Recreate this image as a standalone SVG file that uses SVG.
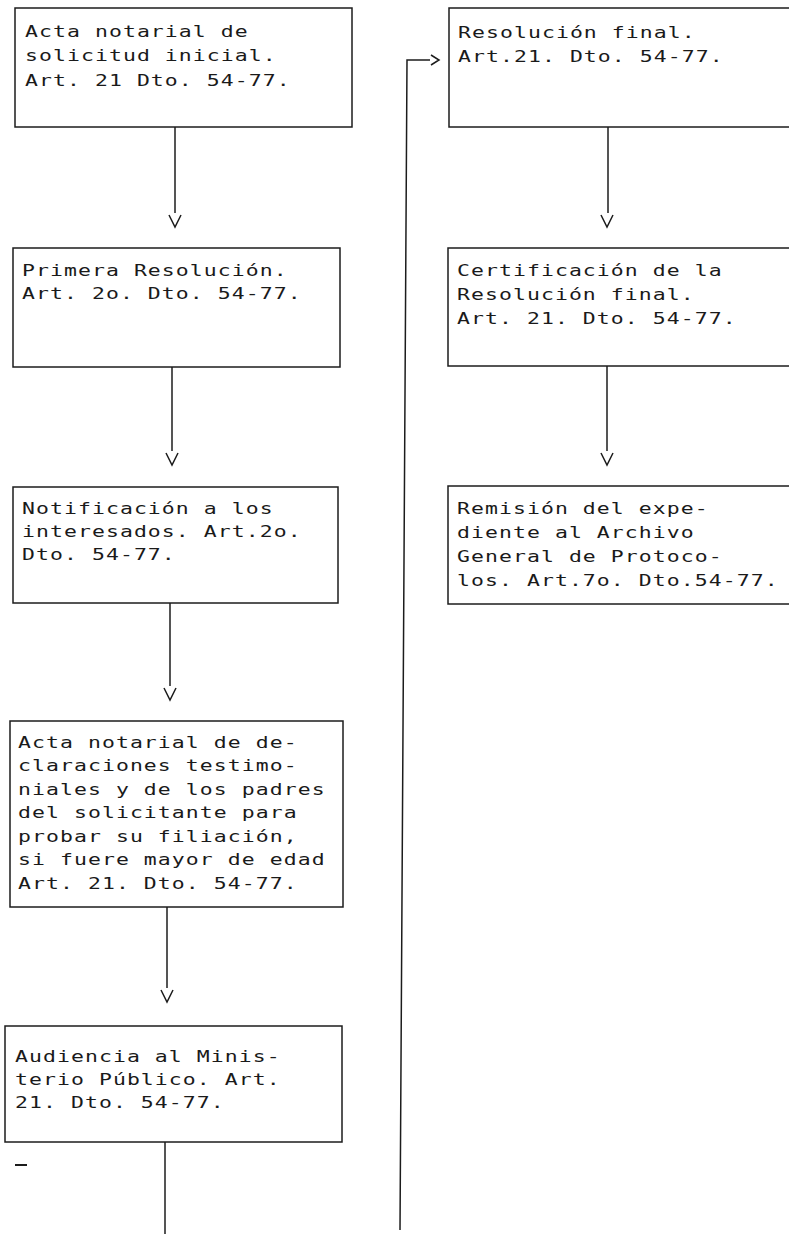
<svg xmlns="http://www.w3.org/2000/svg" xmlns:xlink="http://www.w3.org/1999/xlink" width="789" height="1234" viewBox="0 0 789 1234">
<style>
.box{fill:none;stroke:#1c1c1c;stroke-width:1.5}
.t{font-family:"DejaVu Sans Mono","Liberation Mono",monospace;font-size:16.5px;letter-spacing:0.83px;fill:#1a1a1a}
.c{fill:none;stroke:#1c1c1c;stroke-width:1.5}
</style>
<defs>
<path id="v" d="M-6,0 L0,12 L6,0" fill="none" stroke="#1c1c1c" stroke-width="1.5"/>
</defs>
<rect width="789" height="1234" fill="#ffffff"/>
<g id="n1">
<rect class="box" x="15" y="8" width="337" height="119"/>
<g transform="translate(25,0) scale(1.3,1)">
<text class="t" x="0" y="37">Acta notarial de</text>
<text class="t" x="0" y="61">solicitud inicial.</text>
<text class="t" x="0" y="86">Art. 21 Dto. 54-77.</text>
</g>
</g>
<g id="n2">
<rect class="box" x="13" y="248" width="327" height="119"/>
<g transform="translate(22,0) scale(1.3,1)">
<text class="t" x="0" y="276">Primera Resolución.</text>
<text class="t" x="0" y="299">Art. 2o. Dto. 54-77.</text>
</g>
</g>
<g id="n3">
<rect class="box" x="13" y="487" width="325" height="116"/>
<g transform="translate(22,0) scale(1.3,1)">
<text class="t" x="0" y="514">Notificación a los</text>
<text class="t" x="0" y="537">interesados. Art.2o.</text>
<text class="t" x="0" y="560">Dto. 54-77.</text>
</g>
</g>
<g id="n4">
<rect class="box" x="10" y="721" width="333" height="186"/>
<g transform="translate(18,0) scale(1.3,1)">
<text class="t" x="0" y="748">Acta notarial de de-</text>
<text class="t" x="0" y="771">claraciones testimo-</text>
<text class="t" x="0" y="795">niales y de los padres</text>
<text class="t" x="0" y="818">del solicitante para</text>
<text class="t" x="0" y="842">probar su filiación,</text>
<text class="t" x="0" y="865">si fuere mayor de edad</text>
<text class="t" x="0" y="889">Art. 21. Dto. 54-77.</text>
</g>
</g>
<g id="n5">
<rect class="box" x="5" y="1026" width="337" height="116"/>
<g transform="translate(15,0) scale(1.3,1)">
<text class="t" x="0" y="1062">Audiencia al Minis-</text>
<text class="t" x="0" y="1085">terio Público. Art.</text>
<text class="t" x="0" y="1108">21. Dto. 54-77.</text>
</g>
</g>
<g id="n6">
<rect class="box" x="449" y="8" width="360" height="119"/>
<g transform="translate(458,0) scale(1.3,1)">
<text class="t" x="0" y="38">Resolución final.</text>
<text class="t" x="0" y="62">Art.21. Dto. 54-77.</text>
</g>
</g>
<g id="n7">
<rect class="box" x="448" y="248" width="360" height="118"/>
<g transform="translate(457,0) scale(1.3,1)">
<text class="t" x="0" y="276">Certificación de la</text>
<text class="t" x="0" y="300">Resolución final.</text>
<text class="t" x="0" y="324">Art. 21. Dto. 54-77.</text>
</g>
</g>
<g id="n8">
<rect class="box" x="448" y="486" width="360" height="118"/>
<g transform="translate(457,0) scale(1.3,1)">
<text class="t" x="0" y="514">Remisión del expe-</text>
<text class="t" x="0" y="538">diente al Archivo</text>
<text class="t" x="0" y="562">General de Protoco-</text>
<text class="t" x="0" y="586">los. Art.7o. Dto.54-77.</text>
</g>
</g>
<g id="connectors">
<path class="c" d="M175,127 V213"/>
<use xlink:href="#v" x="175" y="215"/>
<path class="c" d="M172,367 V451"/>
<use xlink:href="#v" x="172" y="453"/>
<path class="c" d="M170,603 V686"/>
<use xlink:href="#v" x="170" y="688"/>
<path class="c" d="M167,907 V988"/>
<use xlink:href="#v" x="167" y="990"/>
<path class="c" d="M165,1142 V1234"/>
<path class="c" d="M608,127 V213"/>
<use xlink:href="#v" x="607" y="215"/>
<path class="c" d="M607,366 V451"/>
<use xlink:href="#v" x="607" y="453"/>
<path class="c" d="M400,1230 L407,60 H430"/>
<path class="c" d="M431,55 L439,60 L431,65"/>
</g>
<path d="M15,1165 H27" stroke="#1c1c1c" stroke-width="2"/>
</svg>
